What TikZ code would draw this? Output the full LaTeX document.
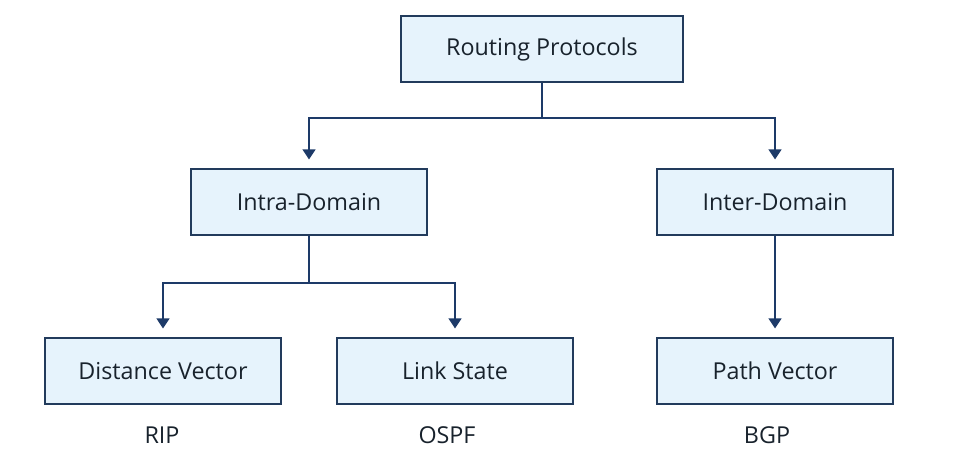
\documentclass[tikz,border=0pt]{standalone}
\usepackage{fontspec}
\setmainfont{Open Sans}
\usetikzlibrary{arrows.meta}
\definecolor{boxfill}{HTML}{E6F3FC}
\definecolor{boxline}{HTML}{223B5C}
\definecolor{arrowline}{HTML}{1D3A68}
\definecolor{textcol}{HTML}{18222C}
\begin{document}
\begin{tikzpicture}[x=1pt,y=-1pt,
	box/.style={draw=boxline,fill=boxfill,line width=1.2pt,minimum width=236pt,minimum height=66pt,inner sep=0pt,text=textcol,font=\fontsize{23.3}{27}\selectfont},
	proto/.style={text=textcol,font=\fontsize{23.3}{27}\selectfont,inner sep=0pt},
	link/.style={draw=arrowline,line width=1.2pt},
	arr/.style={link,-{Triangle[length=10pt,width=13pt]},shorten >=9pt}]
	\useasboundingbox (0,0) rectangle (956,452);
	% top level
	\node[box,minimum width=282pt] (rp) at (542,49){Routing Protocols};
	% second level
	\node[box] (intra) at (309,202){Intra-Domain};
	\node[box] (inter) at (775,202){Inter-Domain};
	% third level
	\node[box] (dv) at (163,371){Distance Vector};
	\node[box] (ls) at (455,371){Link State};
	\node[box] (pv) at (775,371){Path Vector};
	\node[proto] (rip) at (162,435){RIP};
	\node[proto] (ospf) at (447,435){OSPF};
	\node[proto] (bgp) at (767,435){BGP};
	\coordinate (j1) at (542,118);
	\coordinate (j2) at (309,283);
	\draw[link] (rp.south)--(j1);
	\draw[arr] (j1)-|(intra.north);
	\draw[arr] (j1)-|(inter.north);
	\draw[link] (intra.south)--(j2);
	\draw[arr] (j2)-|(dv.north);
	\draw[arr] (j2)-|(ls.north);
	\draw[arr] (inter.south)--(pv.north);
\end{tikzpicture}
\end{document}
